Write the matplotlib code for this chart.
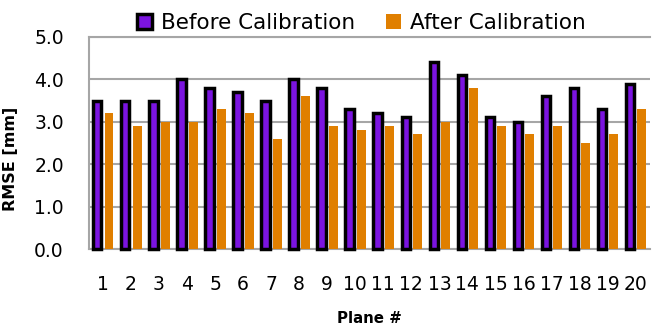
import matplotlib
matplotlib.use("Agg")
import matplotlib.pyplot as plt
from matplotlib.patches import Patch
import numpy as np

planes = [str(i) for i in range(1, 21)]
before = [3.5, 3.5, 3.5, 4.0, 3.8, 3.7, 3.5, 4.0, 3.8, 3.3, 3.2, 3.1, 4.4, 4.1, 3.1, 3.0, 3.6, 3.8, 3.3, 3.9]
after = [3.2, 2.9, 3.0, 3.0, 3.3, 3.2, 2.6, 3.6, 2.9, 2.8, 2.9, 2.7, 3.0, 3.8, 2.9, 2.7, 2.9, 2.5, 2.7, 3.3]
yticks = [0.0, 1.0, 2.0, 3.0, 4.0, 5.0]

purple = "#7B14E0"
orange = "#E07F00"
grid = "#A6A6A6"

plt.rcParams['font.family'] = ['DejaVu Sans']

fig = plt.figure(figsize=(6.53, 3.29), dpi=100)
ax = fig.add_axes([0.136, 0.243, 0.859, 0.645])

x = np.arange(1, len(planes) + 1)
ax.bar(x - 0.2, before, width=0.3, color=purple, edgecolor="black", linewidth=2.5, zorder=3, clip_on=False)
ax.bar(x + 0.22, after, width=0.32, color=orange, edgecolor="none", zorder=3)

ax.set_xlim(0.5, 20.5)
ax.set_ylim(0, 5.0)
ax.set_yticks(yticks)
ax.set_yticklabels([f"{v:.1f}" for v in yticks], fontsize=13.5)
ax.set_xticks(x)
ax.set_xticklabels(planes, fontsize=13.5)
ax.tick_params(axis='both', length=0)
ax.tick_params(axis='x', pad=19)
ax.tick_params(axis='y', pad=18)

ax.yaxis.grid(True, color=grid, linewidth=1.5, zorder=0)
ax.set_axisbelow(True)
for s in ['left', 'top', 'bottom']:
    ax.spines[s].set_color(grid)
    ax.spines[s].set_linewidth(1.5)
ax.spines['right'].set_visible(False)

ax.set_ylabel("RMSE [mm]", fontsize=11.5, fontweight='bold')
ax.yaxis.set_label_coords(-0.127, 0.425)
ax.set_xlabel("Plane #", fontsize=10.8, fontweight='bold', labelpad=12)

handles = [Patch(facecolor=purple, edgecolor="black", linewidth=2.5),
           Patch(facecolor=orange, edgecolor="none")]
fig.legend(handles, ["Before Calibration", "After Calibration"], loc='center',
           bbox_to_anchor=(0.553, 0.930), ncol=2, frameon=False, fontsize=15.5,
           handlelength=0.7, handleheight=0.7, handletextpad=0.4, columnspacing=1.45,
           borderaxespad=0)

fig.savefig("out.png", dpi=100)
